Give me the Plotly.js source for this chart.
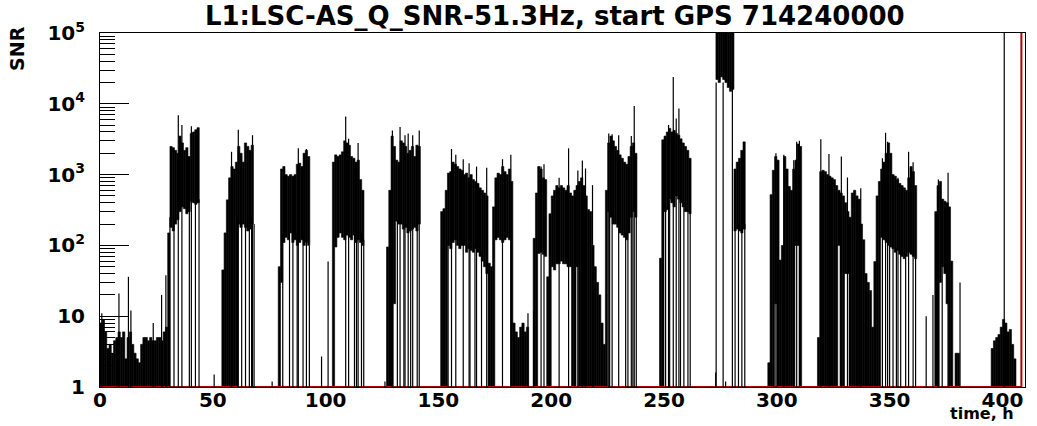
<!DOCTYPE html>
<html>
<head>
<meta charset="utf-8">
<script src="https://cdn.plot.ly/plotly-3.0.1.min.js"></script>
<style>
html,body{margin:0;padding:0;background:#fff;}
#chart{width:1037px;height:426px;}
</style>
</head>
<body>
<div id="chart"></div>
<script>
const n = null;
// SNR per 1-hour bin (bin i covers hours i..i+1): upper and lower envelope of the trace
const snrHigh = [
  8, 9, 6, 3.5, 4, 3, 4.5, 5, 6, 5,
  6, 2.5, 5, 6, 4, 3, 2.5, 2.2, 4, 5,
  5, 4.5, 5, 4.5, 4.5, 5, 5, 4.5, 6, 7,
  150, 2500, 2400, 2200, 2000, 3500, 2800, 2200, 2400, 1800,
  3800, 4000, 4300, 4600, n, n, n, n, n, n,
  n, n, n, n, 45, 150, 440, 900, 1300, 1200,
  1500, 2500, 2000, 1500, 2800, 2500, 2200, 2600, n, n,
  n, n, n, n, n, n, n, n, n, 50,
  1200, 1300, 1000, 950, 1000, 950, 1000, 1400, 1450, 1300,
  2000, 2200, 1800, n, n, n, n, n, n, n,
  n, n, n, 1500, 1900, 1800, 1900, 2100, 3000, 2800,
  2600, 1800, 1700, 1500, 1600, 850, 600, n, n, n,
  n, n, n, n, n, n, n, 95, 600, 3500,
  2500, 1600, 1500, 3000, 2800, 2500, 2000, 2200, 2500, 1800,
  2600, 2500, n, n, n, n, n, n, n, n,
  n, 300, 330, 600, 1050, 1100, 1500, 1400, 1300, 1200,
  1150, 1000, 1050, 900, 1000, 850, 800, 750, 650, 600,
  550, 500, 56, 50, 350, 900, 1050, 1000, 1300, 1100,
  1000, 1200, 800, 8, 6, 5, 7, 8, 6, 7,
  n, n, 126, 550, 1300, 1200, 900, 850, 36, 280,
  500, 600, 700, 650, 700, 650, 600, 700, 550, 500,
  600, 700, 800, 900, 700, 500, 320, 300, 100, 50,
  30, 20, 8, 4, 600, 2800, 3500, 3000, 2500, 2200,
  1900, 1700, 1500, 1400, 1800, 2500, 2800, 2000, n, n,
  n, n, n, n, n, n, n, n, 66, 3100,
  3500, 4000, 4500, 4000, 4200, 3800, 3600, 3200, 2800, 2500,
  2200, 1700, n, n, n, n, n, n, n, n,
  n, n, n, 200000, 200000, 200000, 200000, 200000, 200000, 200000,
  200000, 1200, 1500, 1700, 2200, 2900, n, n, n, n,
  n, n, n, n, n, n, 2.2, 520, 1150, 1800,
  1600, 62, 100, 1800, 1200, 680, 600, 1200, 1600, 2700,
  2500, n, n, n, n, n, n, n, 5, 1100,
  1150, 1100, 1000, 950, 900, 850, 700, 600, 550, 500,
  400, 300, 250, 550, 600, 500, 450, 200, 120, 40,
  30, 23, 7, 59, 500, 800, 1200, 1500, 2000, 2800,
  2000, 1000, 950, 850, 750, 700, 650, 600, 900, 1300,
  1100, 700, n, n, n, n, n, n, n, n,
  300, 700, 800, 450, 420, 400, 350, 60, n, 3,
  3, n, n, n, n, n, n, n, n, n,
  n, n, n, n, n, 3.5, 4.5, 5, 5.5, 7,
  9, 8, 6, 6.5, 4, 2.5, n, n
];
const snrLow = [
  1, 1, 1, 1, 1, 1, 1, 1, 1, 1,
  1, 1, 1, 1, 1, 1, 1, 1, 1, 1,
  1, 1, 1, 1, 1, 1, 1, 1, 1, 1,
  1, 180, 160, 200, 230, 300, 350, 330, 280, 300,
  420, 400, 380, 400, n, n, n, n, n, n,
  n, n, n, n, 1, 1, 1, 1, 1, 1,
  1, 200, 180, 200, 180, 160, 170, 200, n, n,
  n, n, n, n, n, n, n, n, n, 1,
  30, 110, 130, 120, 150, 110, 120, 100, 110, 120,
  100, 110, 100, n, n, n, n, n, n, n,
  n, n, n, 1, 95, 130, 150, 130, 120, 140,
  130, 120, 140, 110, 120, 110, 100, n, n, n,
  n, n, n, n, n, n, n, 1, 1, 1,
  15, 220, 200, 200, 170, 180, 150, 160, 170, 180,
  160, 200, n, n, n, n, n, n, n, n,
  n, 1, 1, 1, 100, 90, 110, 120, 100, 90,
  100, 100, 80, 90, 85, 80, 90, 80, 70, 60,
  50, 40, 1, 1, 1, 120, 130, 120, 110, 120,
  130, 120, 1, 1, 1, 1, 1, 1, 1, 1,
  n, n, 1, 1, 77, 80, 75, 70, 1, 1,
  50, 45, 55, 55, 60, 55, 55, 50, 50, 1,
  1, 50, 1, 1, 1, 1, 1, 1, 1, 1,
  1, 1, 1, 1, 1, 300, 250, 200, 200, 180,
  150, 140, 130, 120, 150, 250, 300, 250, n, n,
  n, n, n, n, n, n, n, n, 1, 1,
  300, 320, 450, 400, 350, 500, 450, 400, 350, 300,
  300, 280, n, n, n, n, n, n, n, n,
  n, n, n, 22000, 20000, 24000, 22000, 20000, 17000, 15000,
  16000, 160, 170, 160, 150, 170, n, n, n, n,
  n, n, n, n, n, n, 1, 1, 1, 15,
  1, 1, 1, 1, 1, 1, 1, 1, 100, 100,
  1, n, n, n, n, n, n, n, 1, 1,
  1, 1, 1, 1, 1, 1, 1, 100, 1, 1,
  40, 40, 1, 1, 1, 1, 1, 1, 1, 1,
  1, 1, 1, 1, 1, 1, 130, 120, 110, 100,
  95, 90, 80, 85, 75, 70, 65, 70, 80, 75,
  70, 65, n, n, n, n, n, n, n, n,
  1, 1, 30, 50, 40, 15, 1, 1, n, 1,
  1, n, n, n, n, n, n, n, n, n,
  n, n, n, n, n, 1, 1, 1, 1, 1,
  1, 1, 1, 1, 1, 1, n, n
];
// single narrow bins: time (h) and peak SNR (spikes and dropouts drawn from SNR = 1)
const spikeTime = [
  0.8, 8.4, 12.6, 13.7, 23.6, 27.3, 29.2,
  31.0, 32.8, 34.7, 36.3, 39.6, 40.5, 42.3, 43.9, 50.6,
  58.3, 61.0, 61.3, 62.8, 64.5, 66.2, 67.2, 67.6, 68.3, 76.3,
  81.0, 84.0, 85.5, 87.4, 87.9, 90.0, 91.5, 92.8, 98.2, 101.1,
  108.9, 110.2, 112.8, 113.7, 114.4, 115.9, 116.9, 126.3,
  129.6, 131.8, 133.0, 134.7, 135.2, 136.6, 137.7, 138.6, 140.6, 141.5,
  154.3, 155.8, 157.7, 161.0, 163.6, 164.0, 166.2, 166.9, 169.1, 171.4, 178.4, 182.1,
  189.7, 192.2, 195.5, 196.8, 203.5, 207.7, 211.8, 213.8, 215.2, 218.3,
  225.5, 225.9, 227.0, 229.9, 233.0, 234.0, 235.5, 236.2, 236.8, 237.7,
  250.7, 252.0, 252.5, 254.1, 255.4, 256.6, 257.3, 258.8, 260.6, 261.6,
  272.9, 273.1, 276.2, 277.3, 280.3, 281.5, 283.0, 284.5, 285.8,
  299.6, 303.1, 307.5, 308.8, 310.0,
  319.5, 323.1, 328.6, 331.3, 337.2,
  346.8, 348.2, 349.1, 350.0, 351.5, 353.0, 353.7, 354.9, 357.1, 358.4, 360.4, 361.5,
  366.2, 369.2, 371.6, 373.3, 375.9, 381.2,
  400.8
];
const spikePeak = [
  11, 21, 36, 12, 8, 20, 38,
  250, 250, 6900, 5000, 350, 4800, 450, 450, 1.5,
  2100, 250, 4300, 250, 250, 250, 250, 3600, 200, 1.2,
  150, 150, 150, 150, 2350, 150, 2300, 100, 2.7, 59,
  6600, 3200, 150, 150, 2800, 150, 120, 1.2,
  4200, 230, 4700, 200, 3600, 3800, 200, 3600, 200, 4200,
  120, 2300, 1900, 1650, 1450, 100, 100, 1300, 80, 1250, 1650, 1900,
  11, 12, 1300, 1400, 900, 2350, 1140, 1580, 1220, 710,
  3800, 300, 3700, 3600, 150, 160, 3500, 300, 9300, 260,
  350, 5000, 450, 24000, 6200, 8600, 450, 400, 320, 300,
  1.6, 20000, 20000, 1.2, 20000, 200, 200, 200, 200,
  2000, 1900, 1600, 2900, 3000,
  3150, 1950, 1800, 910, 640,
  1700, 3900, 2900, 100, 95, 90, 900, 80, 75, 2100, 1500, 70,
  10, 20, 850, 450, 1060, 30,
  300000
];
// reference (red) histogram: empty until the last bin edge
const refTime = [0, 408.4, 408.4];
const refSNR = [1, 1, 300000];
const yTickVals = [1, 10, 100, 1000, 10000, 100000];
const yTickText = ['1', '10', '10<sup>2</sup>', '10<sup>3</sup>', '10<sup>4</sup>', '10<sup>5</sup>'];
const xTickVals = [0, 50, 100, 150, 200, 250, 300, 350, 400];

const binCenter = snrHigh.map((_, i) => i + 0.5);
const bandSize = snrHigh.map((h, i) => (h === null || snrLow[i] === null) ? null : h - snrLow[i]);

const lx = [], ly = [];
spikeTime.forEach((t, i) => { lx.push(t, t, null); ly.push(1, spikePeak[i], null); });

const minorVals = [];
for (let d = 1; d < 100000; d *= 10) for (let k = 2; k <= 9; k++) minorVals.push(d * k);

const fontB = {family: 'DejaVu Sans', weight: 'bold', color: '#000'};

const traces = [
  {type: 'bar', x: binCenter, y: bandSize, base: snrLow, width: 1,
   marker: {color: '#000', line: {color: '#000', width: 0.6}}, hoverinfo: 'skip', showlegend: false},
  {type: 'scatter', mode: 'lines', x: refTime, y: refSNR,
   line: {color: '#b00000', width: 2}, hoverinfo: 'skip', showlegend: false},
  {type: 'scatter', mode: 'lines', x: lx, y: ly, connectgaps: false,
   line: {color: '#000', width: 1.2}, hoverinfo: 'skip', showlegend: false}
];

const layout = {
  width: 1037, height: 426,
  margin: {l: 100, r: 12, t: 33, b: 39},
  paper_bgcolor: '#fff', plot_bgcolor: '#fff',
  bargap: 0,
  title: {text: 'L1:LSC-AS_Q_SNR-51.3Hz, start GPS 714240000',
          font: Object.assign({size: 26}, fontB),
          x: 0.535, xref: 'container', xanchor: 'center',
          y: 0.962, yref: 'container', yanchor: 'middle'},
  xaxis: {range: [0, 410], tickmode: 'array', tickvals: xTickVals,
          ticks: '', showgrid: false, zeroline: false,
          showline: true, mirror: true, linecolor: '#000', linewidth: 1,
          layer: 'below traces', ticklabelstandoff: -5,
          tickfont: Object.assign({size: 20}, fontB)},
  yaxis: {type: 'log', range: [0, 5], tickmode: 'array', tickvals: yTickVals, ticktext: yTickText,
          ticks: 'inside', ticklen: 29, tickwidth: 1, tickcolor: '#000',
          minor: {tickmode: 'array', tickvals: minorVals, ticks: 'inside', ticklen: 15, tickcolor: '#000', tickwidth: 1, showgrid: false},
          showgrid: false, zeroline: false,
          showline: true, mirror: true, linecolor: '#000', linewidth: 1,
          ticklabelstandoff: 10,
          tickfont: Object.assign({size: 20}, fontB)},
  annotations: [
    {text: 'SNR', xref: 'paper', yref: 'paper', x: -0.0897, y: 0.955, xanchor: 'center', yanchor: 'middle',
     textangle: -90, showarrow: false, font: Object.assign({size: 19}, fontB)},
    {text: 'time, h', xref: 'paper', yref: 'paper', x: 0.953, y: -0.076, xanchor: 'center', yanchor: 'middle',
     showarrow: false, font: Object.assign({size: 16}, fontB)}
  ]
};

Plotly.newPlot('chart', traces, layout, {staticPlot: true, displayModeBar: false});
</script>
</body>
</html>
